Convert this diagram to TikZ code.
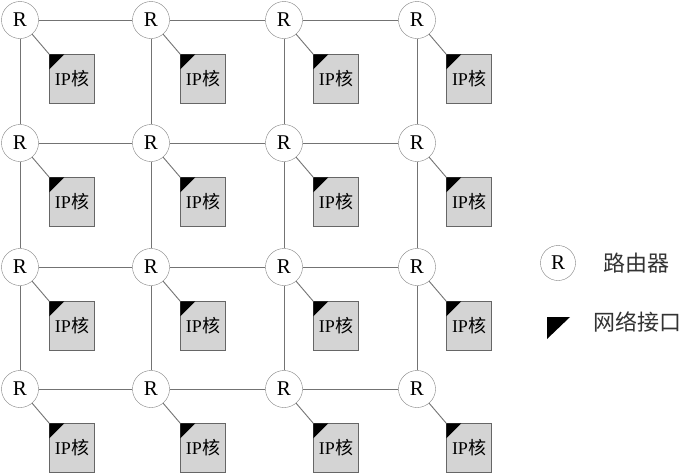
\documentclass[tikz,border=0pt]{standalone}
\usepackage{fontspec}
\setmainfont{Liberation Serif}
\newfontfamily\cjk{Noto Sans CJK SC}
\tikzset{
  router/.style={circle,draw=black!50,fill=white,minimum size=37pt,inner sep=0pt,
    font=\fontsize{21}{21}\selectfont},
  ipcore/.style={draw=black!60,fill=black!17,minimum width=45pt,minimum height=49pt,
    inner sep=0pt,font=\fontsize{18}{18}\selectfont},
  link/.style={draw=black!55,line width=0.9pt},
  legendtext/.style={font=\cjk\fontsize{22}{22}\selectfont,text=black!80},
}
\begin{document}
\begin{tikzpicture}[x=1pt,y=-1pt]
  \useasboundingbox (0,0) rectangle (697,475);

  % ROUTERS AND IP CORES
  \foreach \i/\x in {1/20,2/151,3/284,4/417}{
    \foreach \j/\y in {1/20,2/143,3/267,4/389}{
      \node[router] (r\i\j) at (\x,\y) {R};
      \node[ipcore] (ip\i\j) at (\x+52,\y+59) {IP{\cjk 核}};
      \fill (ip\i\j.north west) -- ++(15,0) -- ++(-15,15) -- cycle;
      \draw[link] (r\i\j) -- (ip\i\j.north west);
    }
  }

  % MESH LINKS
  \foreach \i in {1,...,4}{
    \foreach \j/\k in {1/2,2/3,3/4}{
      \draw[link] (r\i\j) -- (r\i\k);
      \draw[link] (r\j\i) -- (r\k\i);
    }
  }

  % LEGEND
  \node[router,minimum size=35pt] (lr) at (558,263) {R};
  \node[legendtext] (lrt) at (636,263) {路由器};
  \coordinate (li) at (547,317);
  \fill (li) -- ++(23,0) -- ++(-23,22) -- cycle;
  \node[legendtext] (lit) at (637,322) {网络接口};
\end{tikzpicture}
\end{document}
